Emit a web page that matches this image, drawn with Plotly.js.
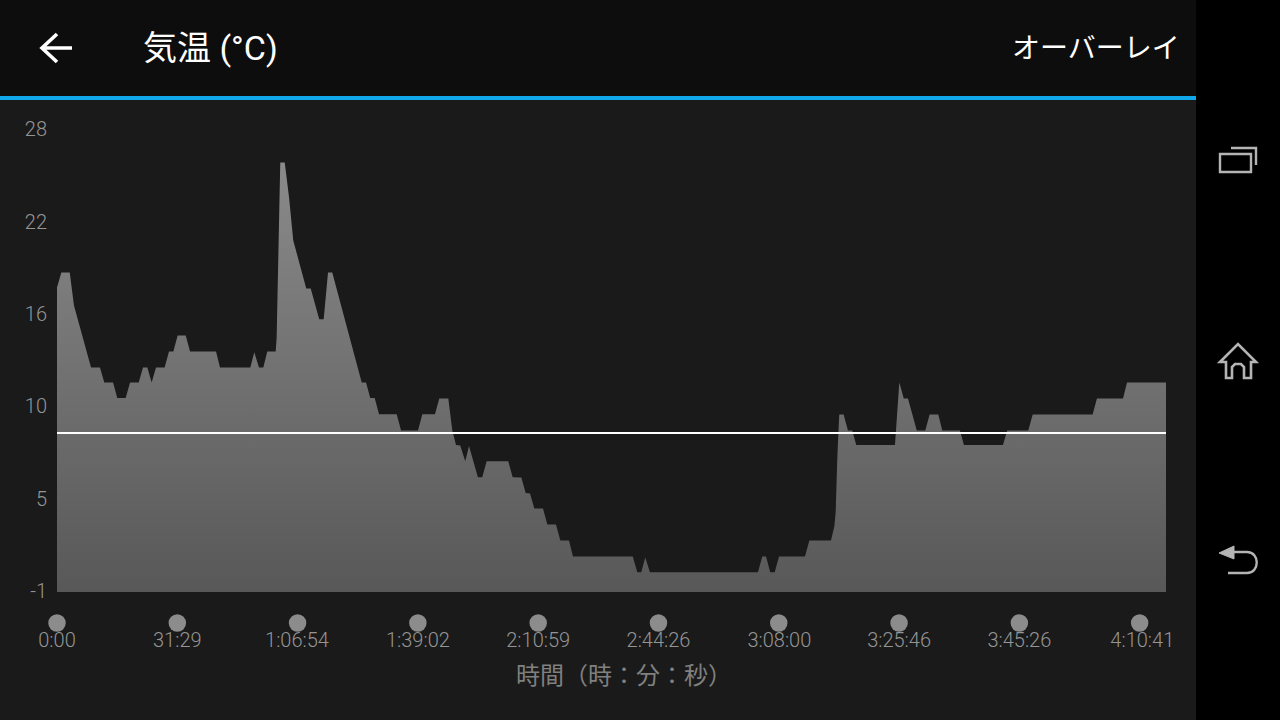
<!DOCTYPE html>
<html>
<head>
<meta charset="utf-8">
<script src="https://cdn.plot.ly/plotly-3.0.1.min.js"></script>
<style>html,body{margin:0;padding:0;background:#1a1a1a;overflow:hidden}#chart{width:1280px;height:720px}</style>
</head>
<body>
<div id="chart"></div>
<script>
const titleText = "気温 (°C)";
const overlayText = "オーバーレイ";
const xTitle = "時間（時：分：秒）";
const xTickLabels = ["0:00","31:29","1:06:54","1:39:02","2:10:59","2:44:26","3:08:00","3:25:46","3:45:26","4:10:41"];
const xLabelPositions = [0,10,19.95,30,40,50,60.05,70,80,90.22];
const xDotPositions = [0,10,20,30,40,50,60,70,80,90];
const xMax = 92.19;
const yTickLabels = ["28","22","16","10","5","-1"];
const yTickValues = [28.05,22.25,16.45,10.65,4.85,-0.95];
const averageTemp = 8.98;
const progress = [0,0.36,1.06,1.41,2.83,3.57,3.93,4.66,5.01,5.71,6.07,6.79,7.15,7.51,7.87,8.23,8.95,9.31,9.67,10.03,10.70,11.06,13.22,13.55,16.07,16.40,16.79,17.15,17.48,18.18,18.26,18.35,18.43,18.48,18.56,18.93,19.29,19.64,20.01,20.72,21.09,21.80,22.17,22.53,22.88,25.33,25.69,26.04,26.41,26.77,28.24,28.60,30.01,30.37,31.42,31.78,32.53,32.86,33.17,33.52,33.94,34.25,34.99,35.35,35.72,37.51,37.88,38.60,38.96,39.32,39.68,40.40,40.76,41.48,41.84,42.56,42.89,47.86,48.24,48.57,48.90,49.29,58.27,58.63,58.94,59.29,59.66,60.02,62.18,62.54,64.34,64.62,64.73,64.78,64.86,64.95,65.03,65.39,65.75,66.11,66.44,69.66,69.77,69.88,70.02,70.39,70.74,71.47,72.18,72.54,73.26,73.59,75.06,75.39,78.64,78.99,80.74,81.11,86.09,86.45,88.62,88.95,92.19];
const temperature = [18.11,19.06,19.06,16.98,13.09,13.09,12.15,12.15,11.18,11.18,12.15,12.15,13.09,13.09,12.15,13.09,13.09,14.10,14.10,15.10,15.10,14.10,14.10,13.09,13.09,14.05,13.09,13.09,14.10,14.10,14.98,17.74,20.44,23.14,25.96,25.96,23.76,21.07,20.00,18.05,18.05,16.12,16.12,19.06,19.06,12.15,12.15,11.18,11.18,10.16,10.16,9.14,9.14,10.16,10.16,11.15,11.15,9.14,8.23,8.20,7.21,8.16,6.21,6.21,7.21,7.21,6.21,6.19,5.21,5.19,4.24,4.24,3.24,3.24,2.23,2.23,1.23,1.23,0.24,0.24,1.17,0.24,0.24,1.23,1.23,0.24,0.24,1.23,1.23,2.23,2.23,3.13,4.01,5.62,7.26,8.89,10.14,10.14,9.14,9.14,8.23,8.23,9.35,10.83,12.15,11.15,11.15,9.14,9.14,10.14,10.14,9.14,9.14,8.23,8.23,9.14,9.14,10.14,10.14,11.15,11.15,12.15,12.15];
const baseline = progress.map(() => -1);

const px = x => (x - 57) / 1109;
const py = y => (592 - y) / 464;
const path = pts => pts.map(p => typeof p === "string" ? p : px(p[0]) + "," + py(p[1])).join(" ");
const rect = (x0, y0, x1, y1, color) => ({type:"rect", xref:"paper", yref:"paper", x0:px(x0), x1:px(x1), y0:py(y0), y1:py(y1), fillcolor:color, line:{width:0}, layer:"below"});
const icon = (d, color, width, fill) => ({type:"path", xref:"paper", yref:"paper", path:d, line:{color:color, width:width}, fillcolor:fill || "rgba(0,0,0,0)", layer:"above"});
const dot = pos => ({type:"circle", xref:"paper", yref:"paper", xsizemode:"pixel", ysizemode:"pixel", xanchor:pos / xMax, yanchor:py(623),
  x0:-8.75, x1:8.75, y0:-8.75, y1:8.75, fillcolor:"#8c8c8c", line:{width:0}, layer:"above"});
const grey = "#b4b4b4";

const traces = [
  {x:progress, y:baseline, mode:"lines", line:{width:0}, hoverinfo:"skip", showlegend:false},
  {x:progress, y:temperature, mode:"lines", line:{width:0}, fill:"tonexty",
   fillgradient:{type:"vertical", start:-1, stop:26, colorscale:[[0,"#585858"],[1,"#8a8a8a"]]}, showlegend:false},
  {x:[0,xMax], y:[averageTemp,averageTemp], mode:"lines", line:{color:"#ffffff", width:2}, showlegend:false}
];

const layout = {
  width:1280, height:720, autosize:false,
  margin:{l:57, r:114, t:128, b:128, pad:0},
  paper_bgcolor:"#1a1a1a", plot_bgcolor:"#1a1a1a",
  showlegend:false,
  font:{family:"Roboto, 'Noto Sans CJK JP', sans-serif", color:"#959595"},
  xaxis:{range:[0,xMax], tickmode:"array", tickvals:xLabelPositions, ticktext:xTickLabels,
    tickfont:{size:20, color:"#959595", weight:300}, showgrid:false, zeroline:false, showline:false, ticks:"", ticklabelstandoff:34, automargin:false,
    title:{text:""}},
  yaxis:{range:[-1,28.13], tickmode:"array", tickvals:yTickValues, ticktext:yTickLabels,
    tickfont:{size:20, color:"#959595", weight:300}, showgrid:false, zeroline:false, showline:false, ticks:"", ticklabelstandoff:9, automargin:false},
  shapes:[
    rect(0,0,1196,96,"#0d0d0d"),
    rect(0,96,1196,100,"#10a8ea"),
    rect(1196,0,1280,720,"#000000"),
    icon(path(["M",[72,48],"L",[42,48],"M",[57,34],"L",[42,48],"L",[57,62]]), "#ffffff", 3.6),
    icon(path(["M",[1220,154],"L",[1251,154],"L",[1251,172],"L",[1220,172],"Z"]), grey, 2.4),
    icon(path(["M",[1231,148],"L",[1256,148],"L",[1256,165]]), grey, 2.4),
    icon(path(["M",[1220,362],"L",[1238,344],"L",[1256,362],"L",[1251,362],"L",[1251,378],"L",[1244,378],"L",[1244,367],"L",[1241,364],"L",[1235,364],"L",[1232,367],"L",[1232,378],"L",[1226,378],"L",[1226,362],"Z"]), grey, 2.6),
    icon(path(["M",[1219,553],"L",[1234,546],"L",[1234,559],"Z"]), grey, 1, grey),
    icon(path(["M",[1234,552],"L",[1247,552],"C",[1260,552],[1260,573],[1247,573],"L",[1228,573]]), grey, 2.4)
  ].concat(xDotPositions.map(dot)),
  annotations:[
    {xref:"paper", yref:"paper", x:px(141), y:py(48), xanchor:"left", yanchor:"middle", text:titleText, showarrow:false,
     font:{family:"Roboto, 'Noto Sans CJK JP', sans-serif", size:34, color:"#ffffff"}},
    {xref:"paper", yref:"paper", x:px(1182), y:py(49), xanchor:"right", yanchor:"middle", text:overlayText, showarrow:false,
     font:{family:"Roboto, 'Noto Sans CJK JP', sans-serif", size:28, color:"#ffffff"}},
    {xref:"paper", yref:"paper", x:px(624), y:py(673), xanchor:"center", yanchor:"middle", text:xTitle, showarrow:false,
     font:{family:"'Noto Sans CJK JP', Roboto, sans-serif", size:24, color:"#808080"}}
  ]
};

Plotly.newPlot("chart", traces, layout, {displayModeBar:false, staticPlot:true});
</script>
</body>
</html>
